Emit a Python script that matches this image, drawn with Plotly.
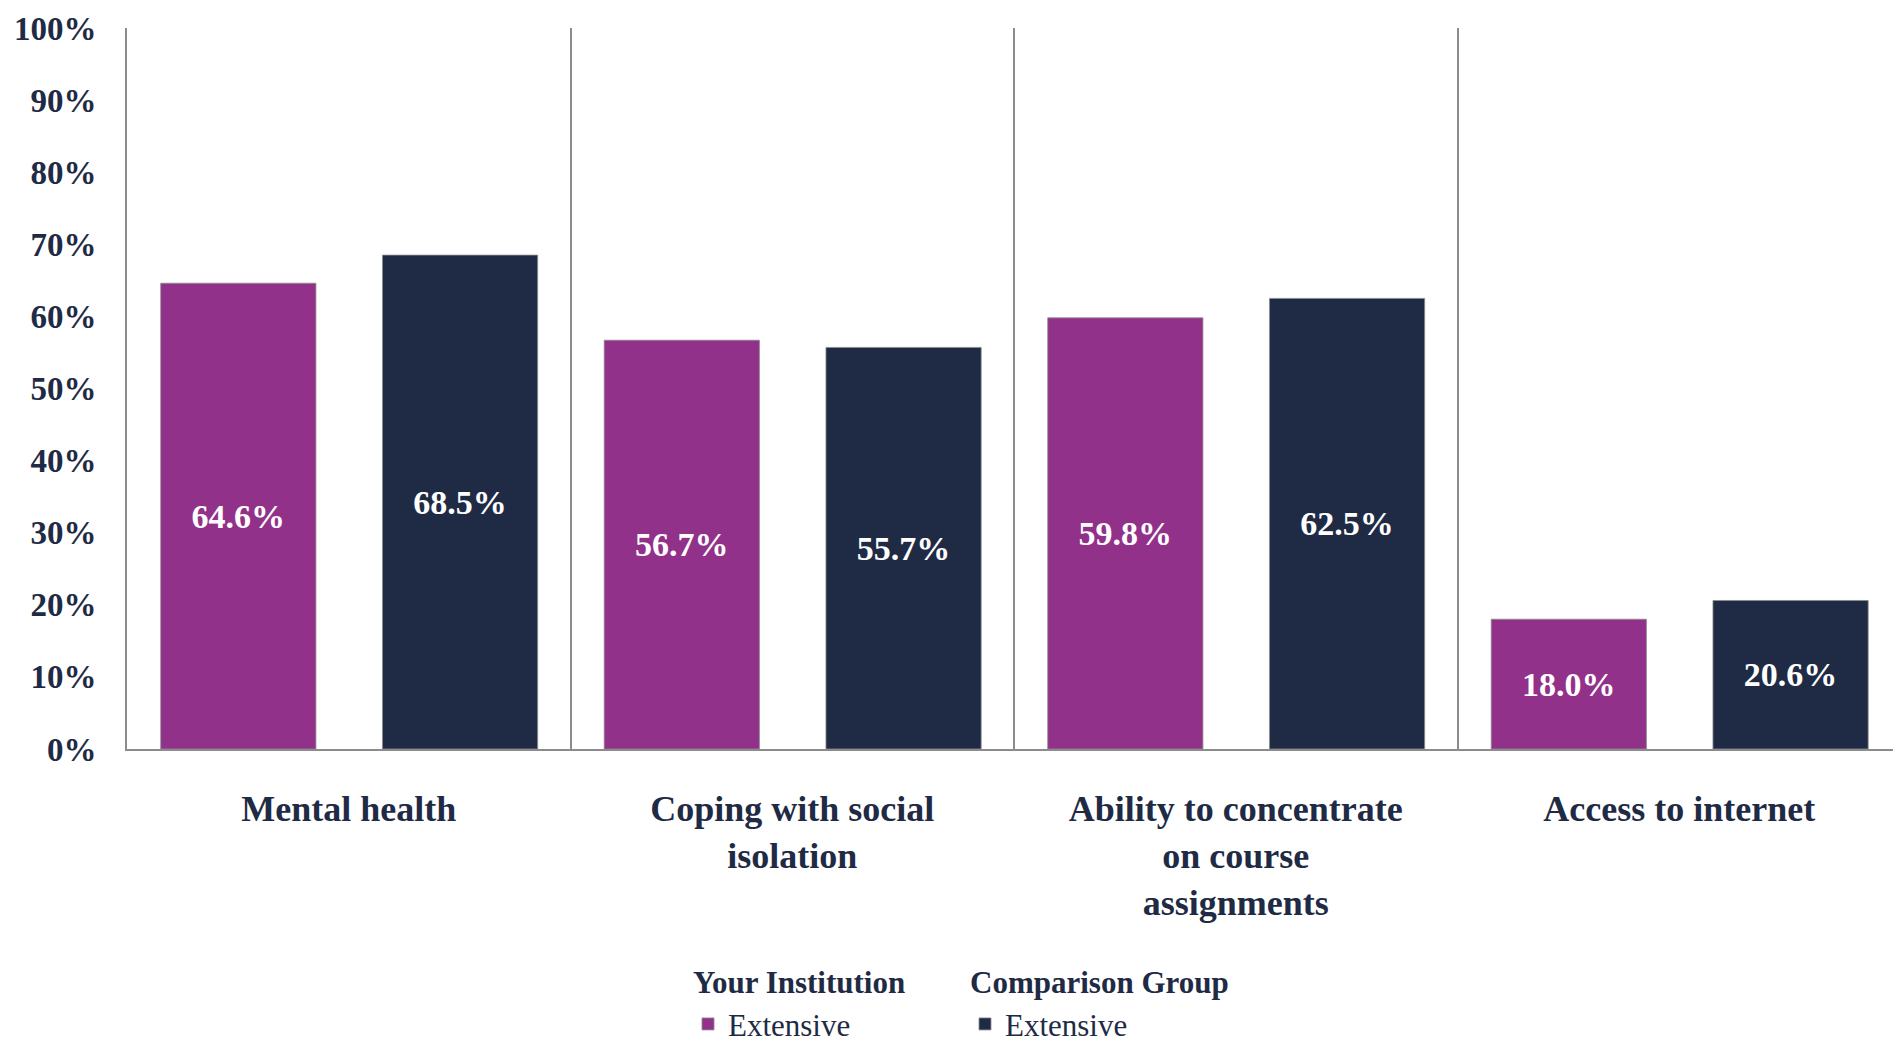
import plotly.graph_objects as go

categories = ["Mental health", "Coping with social<br>isolation",
              "Ability to concentrate<br>on course<br>assignments", "Access to internet"]
your_institution = [0.646, 0.567, 0.598, 0.180]
comparison_group = [0.685, 0.557, 0.625, 0.206]
series_names = ["Your Institution", "Comparison Group"]
item_label = "Extensive"

PURPLE = "#92318A"
NAVY = "#1F2B45"
GRAY = "#8C8C8C"
FONT = "Liberation Serif"

# the page body has an 8px default margin, so the figure is sized to fit the window
PAGE_PAD = 8
W, H = 1901 - PAGE_PAD, 1045 - PAGE_PAD
L = 119

fig = go.Figure()
for name, vals, color, off in [(series_names[0], your_institution, PURPLE, -0.424),
                               (series_names[1], comparison_group, NAVY, 0.076)]:
    fig.add_trace(go.Bar(
        x=categories, y=vals, name=item_label,
        legendgroup=name, legendgrouptitle=dict(text=name, font=dict(family=FONT, size=31, color=NAVY, weight="bold")),
        marker=dict(color=color, line=dict(color="rgba(140,140,140,0.8)", width=1)),
        width=0.35, offset=off,
        texttemplate="%{y:.1%}", textposition="inside", insidetextanchor="middle",
        textangle=0,
        textfont=dict(family=FONT, size=34, color="white", weight="bold"),
        cliponaxis=False,
    ))

fig.update_layout(
    width=W, height=H,
    margin=dict(l=L, r=0, t=28 - PAGE_PAD, b=296, pad=0),
    plot_bgcolor="white", paper_bgcolor="white",
    barmode="overlay",
    font=dict(family=FONT, color=NAVY),
    showlegend=True,
    legend=dict(orientation="h", x=(688 - L - PAGE_PAD) / (W - L), xanchor="left",
                yref="container", y=1 - 946 / H, yanchor="top",
                font=dict(family=FONT, size=31, color=NAVY),
                itemwidth=30, entrywidth=232, entrywidthmode="pixels"),
    xaxis=dict(type="category", range=[-0.5, 3.5], showline=True, linecolor=GRAY, linewidth=2,
               showgrid=True, gridcolor=GRAY, gridwidth=1.5, tickson="boundaries",
               ticks="", ticklabelstandoff=27, automargin=False,
               tickfont=dict(family=FONT, size=36, color=NAVY, weight="bold")),
    yaxis=dict(range=[0, 1], dtick=0.1, tickformat=".0%", showgrid=False, zeroline=False,
               showline=True, linecolor=GRAY, linewidth=2, ticks="", ticklabelstandoff=22,
               automargin=False,
               tickfont=dict(family=FONT, size=33, color=NAVY, weight="bold")),
)

fig.write_html("out.html")
